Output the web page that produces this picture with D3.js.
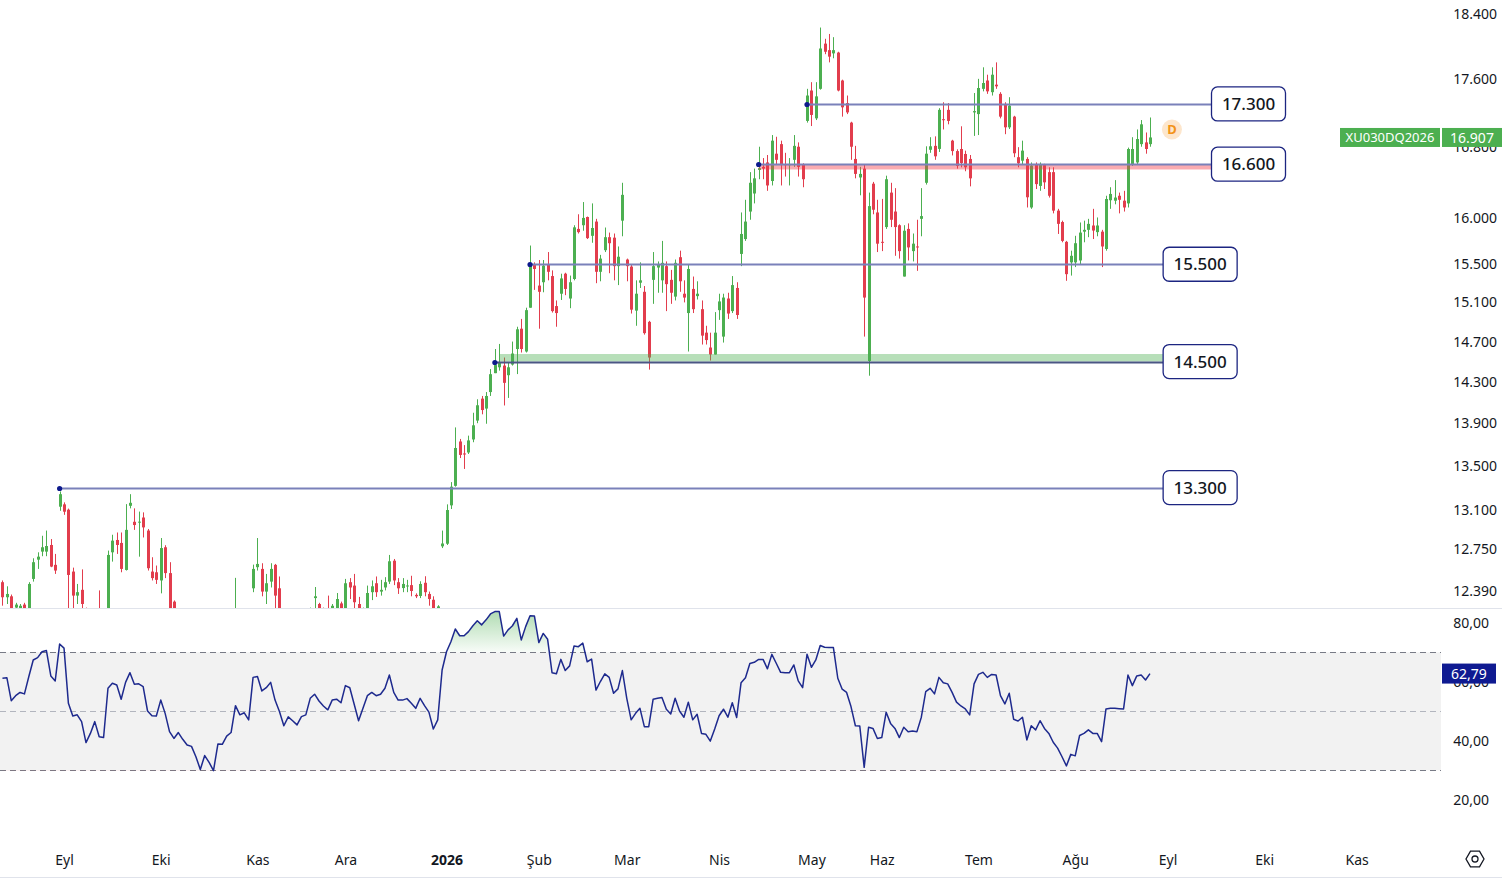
<!DOCTYPE html>
<html>
<head>
<meta charset="utf-8">
<script src="https://cdn.jsdelivr.net/npm/d3@7"></script>
<style>
  body { margin: 0; background: #fff; overflow: hidden; }
  svg { display: block; font-family: "Noto Sans", sans-serif; }
</style>
</head>
<body>
<script>
//Width and height
var w = 1502;
var h = 880;

//Bar 0 = 1 Eyl 2025, the chart starts 14 bars earlier
var firstBar = -14;

var opens = [12465,12337,12345,12250,12240,12275,12180,12493,12659,12729,12729,12787,12614,13127,
  13148,13100,12556,12351,12400,12240,12020,12090,12200,12080,12080,12723,12831,12805,12570,13135,12992,12988,13030,12914,12556,12550,
  12480,12767,12543,12300,12200,12120,12020,11940,11920,11820,11680,11800,11720,11610,11830,11820,11890,11920,12230,12100,12140,12413,
  12594,12579,12385,12470,12614,12413,12200,12080,12160,12120,12080,12170,12190,12330,12280,12220,12200,12160,12230,12285,12220,12465,
  12436,12280,12220,12220,12380,12456,12385,12420,12470,12650,12465,12415,12432,12440,12357,12348,12460,12365,12316,12230,12775,12798,
  13139,13316,13727,13615,13624,13746,13925,14136,14040,14200,14385,14443,14460,14365,14470,14625,14830,14600,15045,15495,15275,15310,
  15495,15375,15062,15190,15400,15140,15344,15880,15920,16010,15805,15960,15420,15650,15790,15785,15480,15970,15550,15475,15015,15305,
  15210,14900,15335,15465,15330,15480,15335,15160,15575,15190,14990,15240,15165,15030,14790,14640,14570,15020,14750,15140,15010,15250,
  15610,15770,16070,16270,16535,16570,16620,16410,16720,16830,16600,16590,16650,16800,16600,17100,17460,17130,17480,18030,17950,17910,
  17920,17580,17310,17080,16660,16450,16550,14505,16380,16060,15740,15900,16280,16070,15920,15370,15880,15640,15690,15990,16390,16765,
  16810,16775,17120,17230,16870,16750,16774,16717,16660,17200,17180,17480,17580,17440,17530,17420,17300,17025,17150,16680,16640,16660,
  16115,16600,16355,16590,16510,16510,16080,15955,15740,15520,15520,15540,15850,15870,15917,15845,15850,15663,16195,16190,16245,16190,
  16160,16600,16620,16830,16850,16830];
var highs = [12480,12430,12360,12290,12280,12290,12465,12671,12723,12868,12914,12839,12709,13265,
  13166,13110,12590,12450,12575,12250,12120,12200,12395,12140,12738,12877,12897,12897,13150,13240,13112,13083,13076,12928,12680,12608,
  12848,12785,12637,12310,12240,12180,12080,12000,11950,11850,11830,11820,11740,11850,11880,11920,11950,12502,12245,12230,12200,12616,
  12848,12628,12536,12628,12622,12514,12240,12200,12220,12180,12200,12240,12250,12424,12290,12250,12351,12280,12373,12300,12493,12500,
  12536,12340,12250,12436,12480,12514,12485,12508,12700,12665,12500,12500,12485,12520,12370,12473,12516,12385,12345,12270,12914,13148,
  13350,13860,13751,13693,13782,14000,14130,14162,14200,14425,14625,14676,14540,14493,14700,14850,14930,15045,15700,15520,15545,15545,
  15630,15435,15120,15400,15410,15380,15920,16040,16175,16015,16160,15990,15600,15895,15840,15830,15690,16390,15560,15500,15330,15520,
  15270,14910,15630,15530,15750,15530,15440,15550,15645,15330,15500,15370,15320,15120,14860,14790,15000,15190,15190,15200,15375,15310,
  16060,16200,16510,16550,16800,16670,16705,16935,16915,16870,16730,16670,16935,16850,16610,17480,17560,17560,18230,18090,18150,18110,
  17930,17590,17400,17090,16810,16570,16600,16280,16400,16200,16210,16470,16390,16330,15930,15920,15940,15830,15980,16330,16805,16910,
  16920,17250,17320,17310,16880,16770,17037,16755,16705,17430,17600,17740,17650,17740,17800,17440,17320,17380,17160,16795,16870,16680,
  16620,16620,16620,16605,16565,16565,16100,15970,15750,15645,15805,15950,15970,15990,16100,16005,15870,16245,16340,16420,16280,16300,
  16790,16910,17000,17110,16965,17140];
var lows = [12266,12280,12150,12150,12150,12150,12150,12470,12579,12689,12689,12594,12536,13090,
  13054,12200,12200,12280,12200,11980,11990,12060,12050,12020,12060,12642,12709,12550,12565,13112,12920,12685,12853,12565,12480,12450,
  12370,12500,12150,12100,12050,11980,11900,11860,11780,11650,11660,11690,11580,11600,11780,11800,11860,11900,12050,12060,12020,12380,
  12565,12345,12280,12420,12200,12150,12050,12060,12080,12040,12060,12120,12150,12200,12150,12150,12100,12140,12150,12150,12150,12322,
  12200,12150,12150,12150,12313,12340,12351,12395,12450,12440,12365,12380,12380,12345,12330,12330,12345,12266,12150,12150,12760,12787,
  13106,13308,13572,13471,13610,13720,13900,13985,13895,14162,14385,14410,14070,14143,14460,14376,14590,14590,15045,15230,14830,15205,
  15330,14995,14850,15125,15175,15040,15330,15830,15860,15770,15730,15300,15320,15630,15405,15330,15280,15800,15320,14985,14860,15250,
  14770,14420,15085,15200,15200,15010,15085,15120,15210,15100,14600,14990,15130,14670,14670,14510,14570,14920,14690,14930,14990,14930,
  15480,15750,15980,16160,16430,16430,16300,16360,16600,16360,16460,16360,16570,16460,16340,17080,17040,17110,17470,17900,17800,17850,
  17450,17150,17180,16650,16440,16250,14750,14360,16040,15630,15640,15880,15900,15590,15560,15370,15540,15530,15430,15800,16370,16730,
  16650,16740,17000,17060,16700,16550,16565,16520,16350,16925,16935,17450,17420,17400,17480,17130,16945,17005,16680,16565,16600,16115,
  16100,16320,16300,16320,16225,16050,15825,15735,15325,15380,15470,15500,15735,15790,15770,15800,15470,15645,16100,16150,16050,16070,
  16115,16580,16600,16800,16720,16800];
var closes = [12337,12365,12200,12275,12265,12200,12450,12637,12685,12767,12778,12599,12565,13240,
  13082,12527,12351,12380,12280,12020,12090,12180,12080,12070,12700,12825,12787,12579,12920,13162,12963,12993,12942,12585,12500,12485,
  12760,12543,12200,12200,12120,12020,11940,11920,11820,11680,11800,11720,11610,11830,11820,11890,11920,12230,12100,12140,12060,12579,
  12622,12385,12456,12579,12351,12200,12080,12160,12120,12080,12170,12190,12240,12345,12220,12180,12160,12265,12322,12220,12456,12420,
  12295,12220,12240,12373,12430,12380,12400,12465,12645,12480,12413,12450,12437,12390,12345,12450,12380,12322,12230,12260,12800,13097,
  13308,13666,13601,13605,13737,13880,14072,14026,14162,14375,14465,14485,14290,14443,14580,14824,14625,15020,15500,15450,15210,15485,
  15420,15010,14990,15350,15240,15310,15897,15845,16000,15780,15890,15420,15560,15790,15725,15480,15580,16255,15480,15025,15190,15330,
  14785,14540,15480,15500,15515,15290,15200,15515,15320,15150,15450,15030,15190,14760,14715,14570,14790,15110,15150,14985,15280,14970,
  15825,15960,16390,16440,16555,16550,16360,16870,16650,16590,16595,16600,16810,16570,16430,17400,17170,17390,17970,17930,17870,17950,
  17460,17260,17200,16800,16490,16490,15150,16130,16090,15720,15730,16430,15980,15900,15640,15860,15680,15720,15680,16020,16720,16805,
  16690,17230,17110,17100,16750,16580,16614,16565,16440,17215,17490,17550,17450,17650,17510,17150,17025,17280,16725,16610,16755,16228,
  16585,16375,16600,16395,16245,16080,15935,15750,15395,15590,15725,15840,15870,15935,15862,15917,15690,16209,16265,16225,16200,16115,
  16774,16774,16889,17060,16774,16907];
var rsiValues = [61.2,61.4,53.6,55.3,56.4,55.9,61.8,67.4,68.2,70.2,70.6,62.0,60.3,72.8,
  71.4,52.7,48.4,48.8,46.5,39.4,42.5,46.5,41.4,41.1,57.8,59.5,58.9,54.1,59.8,63.1,59.2,59.3,58.4,50.1,48.5,48.4,
  53.8,49.3,43.1,40.8,42.8,40.5,38.6,38.1,34.6,30.3,35.0,32.7,29.9,38.9,38.8,41.6,42.8,51.9,48.8,49.5,47.1,61.5,
  61.8,56.9,58.0,59.8,53.8,49.9,45.1,48.1,46.8,45.4,48.2,48.8,54.4,55.8,53.5,51.8,50.5,53.8,54.1,52.9,58.7,58.0,
  52.4,46.8,51.0,55.3,56.4,55.3,55.8,57.8,62.3,56.4,53.8,53.8,54.3,52.7,51.0,54.4,51.9,49.7,44.0,47.1,64.0,70.2,
  73.6,77.9,75.6,75.6,77.0,79.0,80.7,79.3,81.0,83.0,83.8,83.8,75.5,77.6,79.0,81.5,74.2,78.7,82.4,82.3,73.3,76.4,
  74.4,63.1,62.7,67.6,63.8,65.4,72.1,71.9,73.1,66.8,67.7,57.2,60.1,62.7,61.5,56.1,57.6,63.8,54.4,47.1,49.3,51.0,
  44.8,44.8,54.1,54.4,54.7,50.7,49.1,54.4,50.1,48.0,53.1,47.1,49.0,42.5,42.2,39.9,44.0,48.5,50.7,48.0,52.9,47.9,
  59.7,61.4,66.2,66.6,67.6,67.6,64.4,69.3,66.3,63.2,63.1,63.1,65.7,60.3,58.0,69.3,64.9,67.4,72.3,71.7,71.6,71.6,
  61.2,57.5,56.4,51.6,45.1,45.0,31.0,44.6,44.2,40.8,41.1,49.7,45.9,44.2,41.1,44.6,43.1,43.3,43.1,48.0,56.7,57.8,
  55.9,61.5,59.7,59.3,56.4,53.1,51.8,50.8,48.8,59.3,62.5,63.2,61.5,62.5,62.3,55.3,52.5,56.1,47.3,46.7,48.0,40.3,
  45.1,43.7,46.8,44.2,42.5,39.5,37.5,34.6,31.5,35.4,34.9,41.8,42.5,43.7,42.5,42.5,39.7,50.8,51.0,51.0,50.9,50.8,
  62.3,58.7,62.0,62.3,60.6,62.79];

//Time axis: month labels and the bar where each month starts
var monthLabels = ["Eyl","Eki","Kas","Ara","2026","Şub","Mar","Nis","May","Haz","Tem","Ağu","Eyl","Eki","Kas"];
var monthBars = [0,22,44,64,87,108,128,149,170,186,208,230,251,273,294];

var priceTicks = [18400,17600,16800,16000,15500,15100,14700,14300,13900,13500,13100,12750,12390];
var rsiTicks = [80,60,40,20];

//Horizontal levels drawn on the chart (price, first bar, last bar)
var levelPrices = [17300,16600,15500,14500,13300];
var levelFrom = [169,158,106,98,-1];
var levelTo = [261,261,250,250,250];

//Shaded zones next to two levels
var zoneLow = [16540,14500];
var zoneHigh = [16600,14575];
var zoneFrom = [158,99];
var zoneTo = [261,250];

var symbolName = "XU030DQ2026";
var lastPrice = 16907;

var green = "#4caf50", red = "#e23d4d", navy = "#1c2581";

var locale = d3.formatLocale({ decimal: ",", thousands: ".", grouping: [3], currency: ["", ""] });
var fmtPrice = locale.format(",d");
var fmtRsi = locale.format(".2f");

var bars = opens.map(function (o, k) {
  return { i: firstBar + k, o: o, h: highs[k], l: lows[k], c: closes[k], rsi: rsiValues[k] };
});

//Scales
var x = d3.scaleLinear().domain([-14.56, 313.2]).range([0, 1441]);
var y = d3.scaleLog().domain([12390, 18400]).range([591, 14]);
var ry = d3.scaleLinear().domain([30, 70]).range([770.3, 652.3]);

var svg = d3.select("body")
  .append("svg")
  .attr("width", w)
  .attr("height", h);

var defs = svg.append("defs");
defs.append("clipPath").attr("id", "pricePane")
  .append("rect").attr("x", 0).attr("y", 0).attr("width", 1441).attr("height", 608);
defs.append("clipPath").attr("id", "obClip")
  .append("rect").attr("x", 0).attr("y", 609).attr("width", 1441).attr("height", ry(70) - 609);
defs.append("clipPath").attr("id", "osClip")
  .append("rect").attr("x", 0).attr("y", ry(30)).attr("width", 1441).attr("height", 840 - ry(30));

var gradOb = defs.append("linearGradient").attr("id", "gradOb")
  .attr("gradientUnits", "userSpaceOnUse")
  .attr("x1", 0).attr("x2", 0).attr("y1", 610).attr("y2", ry(70));
gradOb.append("stop").attr("offset", 0).attr("stop-color", green).attr("stop-opacity", 0.45);
gradOb.append("stop").attr("offset", 1).attr("stop-color", green).attr("stop-opacity", 0.04);

// ---------- price pane ----------
var price = svg.append("g").attr("clip-path", "url(#pricePane)");

var candle = price.selectAll(".candle")
  .data(bars)
  .enter()
  .append("g")
  .classed("candle", true)
  .style("fill", function (d) { return d.c >= d.o ? green : red; })
  .style("stroke", function (d) { return d.c >= d.o ? green : red; });

candle.append("line")
  .attr("x1", function (d) { return Math.round(x(d.i)) + 0.5; })
  .attr("x2", function (d) { return Math.round(x(d.i)) + 0.5; })
  .attr("y1", function (d) { return y(d.h); })
  .attr("y2", function (d) { return y(d.l); })
  .attr("stroke-width", 1);

candle.append("rect")
  .attr("x", function (d) { return Math.round(x(d.i)) - 1; })
  .attr("width", 3)
  .attr("y", function (d) { return Math.min(y(d.o), y(d.c)); })
  .attr("height", function (d) { return Math.max(1, Math.abs(y(d.o) - y(d.c))); })
  .style("stroke", "none");

//zones
price.selectAll(".zone")
  .data(zoneLow)
  .enter()
  .append("rect")
  .classed("zone", true)
  .attr("x", function (d, k) { return x(zoneFrom[k]); })
  .attr("width", function (d, k) { return x(zoneTo[k]) - x(zoneFrom[k]); })
  .attr("y", function (d, k) { return y(zoneHigh[k]); })
  .attr("height", function (d, k) { return y(d) - y(zoneHigh[k]); })
  .style("fill", function (d, k) { return k === 0 ? "rgba(242,54,69,0.42)" : "rgba(76,175,80,0.4)"; });

//levels
var level = svg.selectAll(".level")
  .data(levelPrices)
  .enter()
  .append("g")
  .classed("level", true);

level.append("line")
  .attr("x1", function (d, k) { return x(levelFrom[k]); })
  .attr("x2", function (d, k) { return x(levelTo[k]); })
  .attr("y1", function (d) { return Math.round(y(d)) + 0.5; })
  .attr("y2", function (d) { return Math.round(y(d)) + 0.5; })
  .style("stroke", function (d) { return d === 14500 ? "#4b5684" : "#7a81ba"; })
  .style("stroke-width", 2);

level.append("circle")
  .attr("cx", function (d, k) { return x(levelFrom[k]); })
  .attr("cy", function (d) { return Math.round(y(d)) + 0.5; })
  .attr("r", 2.6)
  .style("fill", "#0d1a8c");

level.append("rect")
  .attr("x", function (d, k) { return x(levelTo[k]); })
  .attr("y", function (d) { return y(d) - 17; })
  .attr("width", 74)
  .attr("height", 34)
  .attr("rx", 6)
  .style("fill", "#fff")
  .style("stroke", navy)
  .style("stroke-width", 1.3);

level.append("text")
  .attr("x", function (d, k) { return x(levelTo[k]) + 37; })
  .attr("y", function (d) { return y(d); })
  .attr("dy", "0.36em")
  .attr("text-anchor", "middle")
  .style("font-size", "17px")
  .style("font-weight", 500)
  .style("fill", "#131722")
  .text(function (d) { return fmtPrice(d); });

//"D" marker after last bar
var mark = svg.append("g").attr("transform", "translate(" + x(252) + "," + y(17000) + ")");
mark.append("circle").attr("r", 10).style("fill", "#fde6cc");
mark.append("text").attr("text-anchor", "middle").attr("dy", "0.36em")
  .style("font-size", "13px").style("font-weight", "bold").style("fill", "#f39318").text("D");

//price axis
var priceAxis = svg.append("g")
  .attr("transform", "translate(1497,0)")
  .call(d3.axisRight(y).tickValues(priceTicks).tickFormat(fmtPrice).tickSize(0).tickPadding(0));
priceAxis.select(".domain").remove();
priceAxis.selectAll("text")
  .attr("x", 0)
  .attr("text-anchor", "end")
  .style("font-size", "14px")
  .style("font-family", "Noto Sans")
  .style("fill", "#131722");

//last price badge
var ly = y(lastPrice);
svg.append("rect").attr("x", 1340).attr("y", ly - 9.5).attr("width", 100).attr("height", 19).style("fill", green);
svg.append("rect").attr("x", 1442).attr("y", ly - 9.5).attr("width", 60).attr("height", 19).style("fill", green);
svg.append("text").attr("x", 1390).attr("y", ly).attr("dy", "0.36em").attr("text-anchor", "middle")
  .style("font-size", "13px").style("fill", "#fff").text(symbolName);
svg.append("text").attr("x", 1472).attr("y", ly).attr("dy", "0.36em").attr("text-anchor", "middle")
  .style("font-size", "14px").style("fill", "#fff").text(fmtPrice(lastPrice));

//pane separator
svg.append("line").attr("x1", 0).attr("x2", w).attr("y1", 608.5).attr("y2", 608.5)
  .style("stroke", "#e0e3eb");

// ---------- RSI pane ----------
svg.append("rect")
  .attr("x", 0).attr("width", 1441)
  .attr("y", ry(70)).attr("height", ry(30) - ry(70))
  .style("fill", "#f2f2f2");

svg.selectAll(".rsiLevel")
  .data([70, 50, 30])
  .enter()
  .append("line")
  .classed("rsiLevel", true)
  .attr("x1", 0).attr("x2", 1441)
  .attr("y1", function (d) { return Math.round(ry(d)) + 0.5; })
  .attr("y2", function (d) { return Math.round(ry(d)) + 0.5; })
  .style("stroke", function (d) { return d === 50 ? "#b2b5be" : "#787b86"; })
  .style("stroke-dasharray", "6,4");

svg.append("path")
  .datum(bars)
  .attr("clip-path", "url(#obClip)")
  .attr("d", d3.area()
    .x(function (d) { return x(d.i); })
    .y0(ry(70))
    .y1(function (d) { return ry(d.rsi); }))
  .style("fill", "url(#gradOb)");

svg.append("path")
  .datum(bars)
  .attr("clip-path", "url(#osClip)")
  .attr("d", d3.area()
    .x(function (d) { return x(d.i); })
    .y0(ry(30))
    .y1(function (d) { return ry(d.rsi); }))
  .style("fill", "rgba(242,54,69,0.25)");

svg.append("path")
  .datum(bars)
  .attr("d", d3.line()
    .x(function (d) { return x(d.i); })
    .y(function (d) { return ry(d.rsi); }))
  .style("fill", "none")
  .style("stroke", "#1e2a8e")
  .style("stroke-width", 1.5)
  .style("stroke-linejoin", "round");

var rsiAxis = svg.append("g")
  .attr("transform", "translate(1489,0)")
  .call(d3.axisRight(ry).tickValues(rsiTicks).tickFormat(fmtRsi).tickSize(0).tickPadding(0));
rsiAxis.select(".domain").remove();
rsiAxis.selectAll("text")
  .attr("x", 0)
  .attr("text-anchor", "end")
  .style("font-size", "14px")
  .style("font-family", "Noto Sans")
  .style("fill", "#131722");

var lastRsi = rsiValues[rsiValues.length - 1];
svg.append("rect").attr("x", 1442).attr("y", ry(lastRsi) - 10).attr("width", 54).attr("height", 20)
  .style("fill", "#0f1a91");
svg.append("text").attr("x", 1469).attr("y", ry(lastRsi)).attr("dy", "0.36em").attr("text-anchor", "middle")
  .style("font-size", "14px").style("fill", "#fff").text(fmtRsi(lastRsi));

// ---------- time axis ----------
var timeAxis = svg.append("g")
  .attr("transform", "translate(0,855)")
  .call(d3.axisBottom(x).tickValues(monthBars)
    .tickFormat(function (d, k) { return monthLabels[k]; })
    .tickSize(0).tickPadding(0));
timeAxis.select(".domain").remove();
timeAxis.selectAll("text")
  .style("font-size", "14px")
  .style("font-family", "Noto Sans")
  .style("fill", "#131722")
  .style("font-weight", function (d, k) { return monthLabels[k] === "2026" ? "bold" : "normal"; });

svg.append("line").attr("x1", 0).attr("x2", w).attr("y1", 877.5).attr("y2", 877.5)
  .style("stroke", "#e0e3eb");

//settings icon
var gear = svg.append("g").attr("transform", "translate(1475,859)");
gear.append("path")
  .attr("d", d3.range(6).map(function (k) {
    var a = Math.PI / 3 * k;
    return (k ? "L" : "M") + (9 * Math.cos(a)).toFixed(2) + "," + (9 * Math.sin(a)).toFixed(2);
  }).join("") + "Z")
  .style("fill", "none").style("stroke", "#131722").style("stroke-width", 1.3);
gear.append("circle").attr("r", 3).style("fill", "none").style("stroke", "#131722").style("stroke-width", 1.3);
</script>
</body>
</html>
